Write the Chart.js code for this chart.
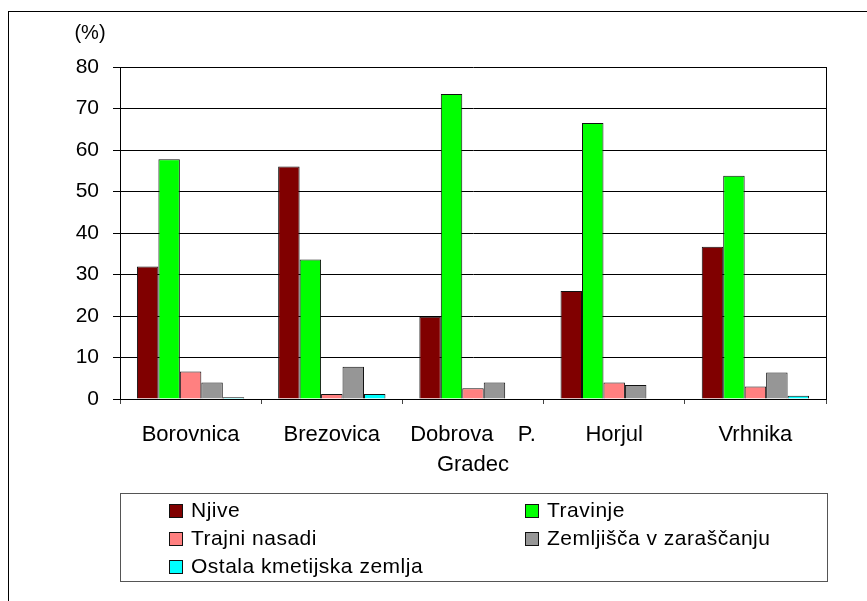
<!DOCTYPE html>
<html>
<head>
<meta charset="utf-8">
<script src="https://cdn.jsdelivr.net/npm/chart.js@4/dist/chart.umd.min.js"></script>
<style>
  html, body { margin: 0; padding: 0; background: #fff; overflow: hidden; }
  #wrap { position: relative; width: 867px; height: 601px; }
  #frame { position: absolute; left: 8px; top: 11px; width: 900px; height: 700px; border: 1px solid #000; }
  #chart { position: absolute; left: 0; top: 0; }
  #legend {
    position: absolute; left: 120px; top: 493px; width: 706px; height: 87px;
    border: 1px solid #555; box-sizing: content-box;
    font-family: "Liberation Sans", Arial, sans-serif; font-size: 21px; letter-spacing: 0.5px; color: #000;
  }
  .item { position: absolute; height: 24px; line-height: 24px; white-space: nowrap; }
  .sw { display: inline-block; width: 12px; height: 12px; border: 1px solid #111; vertical-align: -1px; margin-right: 8px; }
</style>
</head>
<body>
<div id="wrap">
  <div id="frame"></div>
  <canvas id="chart" width="867" height="601"></canvas>
  <div id="legend"></div>
</div>
<script>
// data
var municipalities = ['Borovnica', 'Brezovica', ['Dobrova    P.', 'Gradec'], 'Horjul', 'Vrhnika'];
var seriesNames = ['Njive', 'Travinje', 'Trajni nasadi', 'Zemljišča v zaraščanju', 'Ostala kmetijska zemlja'];
var njive = [31.9, 56.0, 19.8, 26.0, 36.7];
var travinje = [57.8, 33.6, 73.5, 66.5, 53.8];
var trajniNasadi = [6.6, 1.2, 2.6, 4.0, 3.0];
var zaraščanje = [4.0, 7.8, 4.0, 3.4, 6.4];
var ostala = [0.4, 1.2, 0, 0, 0.8];
var yTicks = [0, 10, 20, 30, 40, 50, 60, 70, 80];

var seriesColors = ['#800000', '#00ff00', '#ff8080', '#969696', '#00ffff'];
var seriesValues = [njive, travinje, trajniNasadi, zaraščanje, ostala];

var yFont = { family: '"Liberation Sans", Arial, sans-serif', size: 21 };
var xFont = { family: '"Liberation Sans", Arial, sans-serif', size: 22, lineHeight: 1.35 };

var datasets = seriesNames.map(function(name, i) {
    return {
        label: name,
        data: seriesValues[i],
        backgroundColor: seriesColors[i],
        borderColor: '#111',
        borderWidth: 1,
        borderSkipped: 'start',
        categoryPercentage: 0.76,
        barPercentage: 1.0
    };
});

// box round the plot area and the (%) label
var plotExtras = {
    id: 'plotExtras',
    afterDraw: function(chart) {
        var ctx = chart.ctx;
        var a = chart.chartArea;
        ctx.save();
        ctx.strokeStyle = '#000';
        ctx.lineWidth = 1;
        ctx.beginPath();
        ctx.moveTo(Math.round(a.right) + 0.5, a.top);
        ctx.lineTo(Math.round(a.right) + 0.5, a.bottom);
        ctx.stroke();
        ctx.fillStyle = '#000';
        ctx.font = '20px "Liberation Sans", Arial, sans-serif';
        ctx.textAlign = 'center';
        ctx.textBaseline = 'middle';
        ctx.fillText('(%)', a.left - 30, 33);
        ctx.restore();
    }
};

var ctx = document.getElementById('chart').getContext('2d');
var chart = new Chart(ctx, {
    type: 'bar',
    data: { labels: municipalities, datasets: datasets },
    plugins: [plotExtras],
    options: {
        responsive: false,
        animation: false,
        layout: { padding: { left: 0, right: 41, top: 67, bottom: 122 } },
        plugins: { legend: { display: false }, tooltip: { enabled: false } },
        scales: {
            x: {
                grid: { offset: true, drawOnChartArea: false, color: '#444', tickLength: 5 },
                border: { color: '#000', width: 1 },
                ticks: { color: '#000', font: xFont, padding: 16, maxRotation: 0, autoSkip: false },
                afterFit: function(scale) { scale.height = 80; }
            },
            y: {
                min: 0, max: 80,
                afterBuildTicks: function(scale) {
                    scale.ticks = yTicks.map(function(v) { return { value: v }; });
                },
                grid: { color: '#000', tickLength: 7 },
                border: { color: '#000', width: 1 },
                ticks: { color: '#000', font: yFont, padding: 14 },
                afterFit: function(scale) { scale.width = 120; }
            }
        }
    }
});

// legend in two columns, built from the series
var legend = document.getElementById('legend');
seriesNames.forEach(function(name, i) {
    var el = document.createElement('div');
    el.className = 'item';
    el.style.left = (i % 2 === 0 ? 48 : 404) + 'px';
    el.style.top = (4 + Math.floor(i / 2) * 28) + 'px';
    el.innerHTML = '<span class="sw" style="background:' + seriesColors[i] + '"></span>' + name;
    legend.appendChild(el);
});
</script>
</body>
</html>
